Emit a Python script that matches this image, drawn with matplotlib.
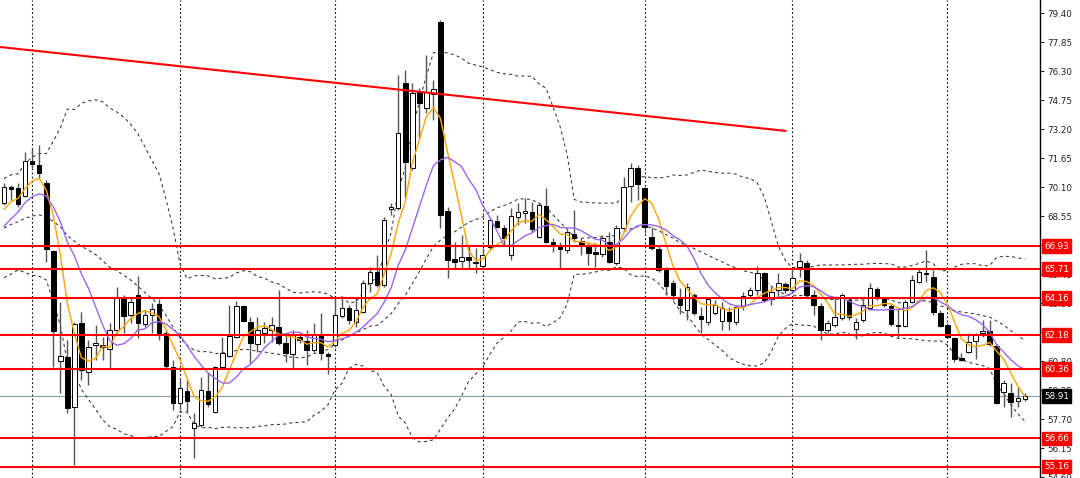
import numpy as np
import pandas as pd
import matplotlib
matplotlib.use("Agg")
import matplotlib.pyplot as plt
import matplotlib.transforms as mtransforms
from matplotlib.patches import Rectangle

# ---------------- data (daily candles) ----------------
opens = [69.24, 70.10, 70.05, 69.62, 71.49, 71.28, 70.31, 66.68, 60.80, 61.01,
         58.34, 62.83, 60.21, 61.65, 61.65, 61.44, 62.46, 64.17, 63.26, 64.33,
         62.78, 63.26, 63.85, 62.30, 60.48, 58.55, 59.20, 57.22, 57.38, 59.20,
         58.07, 60.48, 61.07, 62.08, 63.74, 62.88, 61.71, 62.30, 62.46, 62.62,
         61.76, 61.17, 62.08, 61.87, 61.39, 62.19, 61.17, 61.65, 63.21, 63.63,
         62.88, 63.42, 64.97, 65.56, 64.86, 68.92, 68.98, 75.66, 71.12, 75.23,
         74.32, 75.07, 78.92, 68.82, 66.25, 66.15, 66.36, 66.04, 65.88, 66.89,
         68.28, 67.91, 66.47, 68.50, 68.71, 68.76, 67.43, 69.08, 67.16, 66.89,
         66.73, 67.59, 67.21, 66.89, 66.63, 66.52, 67.16, 66.04, 67.91, 70.15,
         71.12, 70.05, 67.43, 66.79, 65.66, 64.97, 64.22, 63.53, 64.33, 63.21,
         62.88, 63.37, 62.94, 63.42, 62.88, 63.74, 64.33, 64.59, 65.50, 64.11,
         64.59, 64.92, 64.59, 65.82, 66.04, 64.33, 63.74, 62.46, 62.72, 63.10,
         64.06, 62.51, 62.99, 63.63, 64.65, 64.17, 63.74, 62.72, 62.67, 63.95,
         65.02, 65.45, 65.29, 63.37, 62.72, 62.03, 60.96, 61.28, 61.87, 62.30,
         62.40, 61.60, 59.14, 59.09, 58.66, 58.77]
highs = [70.31, 70.21, 70.31, 71.97, 72.18, 72.35, 70.47, 66.73, 63.95, 61.92,
         62.88, 63.42, 61.92, 62.72, 62.08, 62.83, 64.75, 64.33, 64.22, 65.34,
         63.53, 63.90, 64.11, 62.46, 60.85, 59.89, 59.78, 58.02, 59.94, 60.21,
         60.53, 62.08, 63.79, 64.01, 63.79, 63.15, 63.15, 62.88, 63.15, 64.59,
         62.19, 62.46, 62.30, 62.46, 62.83, 63.37, 61.28, 64.17, 64.17, 63.79,
         64.17, 65.13, 65.82, 66.47, 68.50, 69.24, 76.09, 76.35, 75.66, 75.39,
         77.16, 75.82, 79.00, 69.03, 67.16, 67.53, 67.00, 66.84, 66.84, 68.44,
         68.60, 68.07, 68.98, 69.24, 69.51, 69.30, 69.30, 70.05, 67.37, 67.16,
         67.80, 68.87, 67.37, 67.16, 67.11, 67.53, 67.69, 68.07, 70.63, 71.38,
         71.28, 70.10, 67.96, 67.00, 65.82, 65.13, 64.70, 64.97, 64.43, 63.69,
         64.17, 64.06, 63.95, 63.69, 63.79, 64.49, 64.75, 65.88, 65.56, 64.75,
         65.50, 65.02, 65.77, 66.57, 66.20, 64.59, 63.90, 62.99, 64.17, 64.43,
         64.17, 63.10, 64.06, 64.97, 64.75, 64.22, 63.90, 63.63, 64.06, 65.40,
         65.77, 66.73, 65.66, 63.53, 62.83, 62.08, 61.23, 62.30, 62.30, 62.99,
         62.99, 61.71, 59.78, 59.62, 59.41, 59.09]
lows = [69.14, 69.41, 69.03, 69.57, 71.12, 70.58, 66.09, 60.48, 59.09, 58.02,
        55.24, 59.78, 59.52, 60.85, 60.85, 60.43, 62.30, 62.30, 62.83, 62.03,
        62.62, 62.30, 61.92, 60.43, 58.18, 58.18, 58.07, 55.61, 57.27, 58.34,
        58.02, 60.43, 61.01, 62.03, 62.88, 60.69, 61.28, 61.76, 61.82, 61.65,
        60.75, 60.43, 61.76, 60.59, 61.28, 60.85, 60.10, 61.55, 63.10, 62.78,
        62.62, 63.37, 64.49, 64.75, 64.75, 68.60, 68.87, 69.51, 71.01, 72.72,
        74.06, 73.68, 67.91, 65.24, 65.77, 65.77, 65.77, 65.50, 65.82, 66.79,
        67.91, 67.00, 66.20, 68.07, 68.18, 67.69, 67.37, 67.11, 66.63, 65.77,
        66.57, 67.16, 66.47, 65.93, 65.82, 66.36, 66.04, 65.93, 67.80, 69.30,
        69.41, 67.64, 66.73, 65.56, 64.33, 64.06, 63.31, 62.99, 63.26, 62.30,
        62.72, 63.26, 62.46, 62.46, 62.72, 63.53, 64.17, 64.33, 63.95, 63.79,
        64.17, 64.43, 64.43, 65.29, 64.22, 63.26, 61.92, 62.30, 62.62, 62.99,
        62.99, 61.98, 62.88, 63.53, 64.06, 63.69, 62.67, 62.03, 62.62, 63.90,
        64.97, 65.02, 63.26, 62.62, 62.03, 60.75, 60.80, 61.23, 60.91, 62.08,
        61.60, 58.50, 58.34, 57.81, 58.34, 58.66]
closes = [70.10, 69.99, 69.19, 71.49, 71.33, 70.85, 66.79, 62.40, 61.07, 58.29,
          62.78, 60.32, 61.55, 61.76, 61.55, 62.46, 64.22, 63.21, 63.95, 62.83,
          63.26, 63.58, 62.30, 60.53, 58.55, 59.36, 58.66, 57.49, 59.25, 58.50,
          60.48, 61.23, 62.14, 63.74, 62.94, 61.76, 62.46, 62.56, 62.72, 61.76,
          61.23, 62.19, 61.92, 61.39, 62.19, 61.23, 61.07, 63.26, 63.63, 62.99,
          63.53, 64.97, 65.56, 64.86, 68.34, 69.03, 72.99, 71.44, 75.12, 74.59,
          75.18, 75.34, 68.60, 66.20, 66.09, 66.36, 66.20, 66.09, 66.47, 68.34,
          67.96, 67.37, 68.55, 68.76, 68.82, 67.86, 69.14, 67.16, 67.00, 66.79,
          67.69, 67.37, 67.00, 66.57, 66.52, 67.37, 66.09, 67.91, 70.10, 71.12,
          70.26, 67.96, 66.84, 65.66, 64.81, 64.33, 63.79, 64.75, 63.37, 63.04,
          64.11, 63.79, 63.63, 62.94, 63.69, 64.27, 64.59, 65.50, 64.06, 64.49,
          64.97, 64.59, 65.24, 66.15, 64.33, 63.79, 62.46, 62.83, 63.15, 64.33,
          63.15, 62.88, 63.79, 64.70, 64.22, 63.79, 62.78, 62.67, 63.95, 65.13,
          65.56, 65.50, 63.42, 62.67, 62.08, 60.91, 60.85, 61.82, 62.19, 62.40,
          61.71, 58.55, 59.62, 58.61, 58.82, 58.91]
# closes of the bars just before the first visible one (estimated from the
# indicator lines at the left edge), used only to seed the indicators
prior_closes = [66.0, 66.4, 67.5, 69.2, 69.6, 68.8, 67.4, 66.6, 67.8, 68.7,
                66.0, 65.6, 66.4, 68.2, 69.3, 67.9, 68.3, 68.9, 69.3]

level_prices = [66.93, 65.71, 64.16, 62.18, 60.36, 56.66, 55.16]
current_price = 58.91
month_start_bars = [4, 25, 47, 68, 91, 112, 134]
trend_bars = [-1, 111]
trend_prices = [77.60, 73.10]
axis_ticks = [79.40, 77.85, 76.30, 74.75, 73.20, 71.65, 70.10, 68.55, 67.00,
              65.45, 63.90, 62.35, 60.80, 59.25, 57.70, 56.15, 54.60]

# ---------------- indicators ----------------
n = len(closes)
x = np.arange(n)
allc = pd.Series(prior_closes + closes)
k = len(prior_closes)
sma5 = allc.rolling(5).mean().values[k:]
sma10 = allc.rolling(10).mean().values[k:]
bb_mid = allc.rolling(20).mean().values[k:]
bb_sd = allc.rolling(20).std(ddof=0).values[k:]
bb_up = bb_mid + 2 * bb_sd
bb_lo = bb_mid - 2 * bb_sd

# ---------------- figure ----------------
fig = plt.figure(figsize=(10.8, 4.78), dpi=100)
fig.patch.set_facecolor("white")
ax = fig.add_axes([0, 0, 1040 / 1080, 1])
ax.set_facecolor("white")
ax.set_xlim(-0.57, 147.16)
ax.set_ylim(54.547, 80.095)

for s in ["left", "top", "bottom"]:
    ax.spines[s].set_visible(False)
ax.spines["right"].set_color("black")
ax.spines["right"].set_linewidth(1.0)
ax.set_xticks([])
ax.yaxis.tick_right()
ax.set_yticks(axis_ticks)
ax.set_yticklabels([f"{t:.2f}" for t in axis_ticks])
ax.tick_params(axis="y", length=3, width=0.7, pad=2, labelsize=6.3,
               colors="#222222")

# month separators
for b in month_start_bars:
    ax.axvline(b, color="black", lw=0.8, ls=(0, (1.5, 2.2)), zorder=1)

# current price line
ax.axhline(current_price, color="#8d9cab", lw=0.8, zorder=1)

# Bollinger bands
dash = (0, (3, 3))
for arr in (bb_up, bb_mid, bb_lo):
    ax.plot(x, arr, color="#333333", lw=0.75, ls=dash, zorder=2)

# candles
w = 0.64
ax.vlines(x, lows, highs, color="#555555", lw=1.0, zorder=3)
for i in range(n):
    o, c = opens[i], closes[i]
    bull = c >= o
    lo_b = min(o, c)
    h = max(abs(c - o), 0.04)
    ax.add_patch(Rectangle((i - w / 2, lo_b), w, h,
                           facecolor="white" if bull else "black",
                           edgecolor="black", lw=0.7, zorder=4))

# moving averages
ax.plot(x, sma5, color="#ffa500", lw=1.0, zorder=5)
ax.plot(x, sma10, color="#9966ee", lw=1.0, zorder=5)

# horizontal levels
for p in level_prices:
    ax.axhline(p, color="#ff0000", lw=1.5, zorder=6)

# trend line
ax.plot(trend_bars, trend_prices, color="#ff0000", lw=1.5, zorder=6)

# price labels on the axis
trans = mtransforms.blended_transform_factory(ax.transAxes, ax.transData)
for p in level_prices:
    ax.text(1.004, p, f"{p:.2f}", transform=trans, fontsize=6.3, color="white",
            ha="left", va="center", zorder=20, clip_on=False,
            bbox=dict(boxstyle="square,pad=0.28", fc="#ff0000", ec="#ff0000"))
ax.text(1.004, current_price, f"{current_price:.2f}", transform=trans,
        fontsize=6.3, color="white", ha="left", va="center", zorder=20,
        clip_on=False,
        bbox=dict(boxstyle="square,pad=0.28", fc="black", ec="black"))

fig.savefig("out.png", dpi=100, facecolor="white")
